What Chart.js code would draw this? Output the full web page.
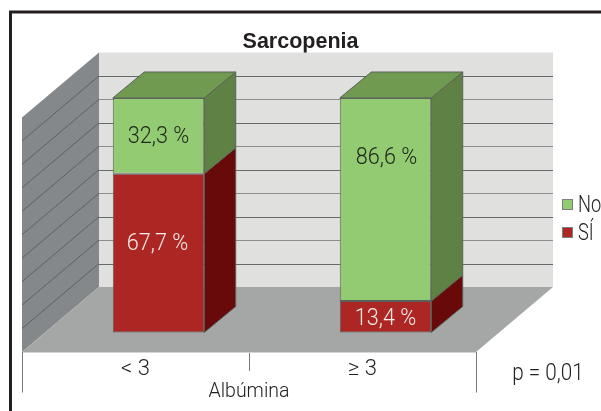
<!DOCTYPE html>
<html><head><meta charset="utf-8">
<style>html,body{margin:0;padding:0;background:#fff;overflow:hidden}canvas{display:block}</style>
<script src="https://cdn.jsdelivr.net/npm/chart.js@4"></script>
</head><body><canvas id="c" width="601" height="411"></canvas>
<script>
const categories = ['< 3', '≥ 3'];
const siValues = [67.7, 13.4];
const noValues = [32.3, 86.6];
const siLabels = ['67,7 %', '13,4 %'];
const noLabels = ['32,3 %', '86,6 %'];
const gridValues = [10, 20, 30, 40, 50, 60, 70, 80, 90];
const titleText = 'Sarcopenia';
const axisTitle = 'Albúmina';
const pText = 'p = 0,01';
const LIGHT = 'Roboto,"Liberation Sans",sans-serif';

const FLOOR = {dx: 77, dy: -65};
const FRONT = {dx: 23, dy: -19.5};
const BAR = {dx: 31.5, dy: -26};
const LABEL_SHIFT = {si: [[-1, -11.5], [0, 0]], no: [[0, -1], [1, -44]]};
const EDGE = '#5c615c';

function poly(ctx, pts, fill, stroke) {
  ctx.beginPath();
  pts.forEach((p, i) => i ? ctx.lineTo(p[0], p[1]) : ctx.moveTo(p[0], p[1]));
  ctx.closePath();
  ctx.fillStyle = fill; ctx.fill();
  if (stroke) { ctx.strokeStyle = stroke; ctx.lineWidth = 1; ctx.stroke(); }
}
function narrowText(ctx, text, px, py, sx) {
  ctx.save();
  ctx.translate(px, py);
  ctx.scale(sx || 0.9, 1);
  ctx.fillText(text, 0, 0);
  ctx.restore();
}
const scene = {
  id: 'scene',
  afterLayout(chart) {
    chart.titleBlock.left = 0;
    chart.titleBlock.right = chart.width;
  },
  beforeDatasetsDraw(chart) {
    const {ctx, scales: {x, y}} = chart;
    const L = x.left, R = x.right, B = y.getPixelForValue(0), T = y.getPixelForValue(100);
    ctx.save();
    // frame
    ctx.strokeStyle = '#231f20'; ctx.lineWidth = 3;
    ctx.beginPath(); ctx.moveTo(10.5, 411); ctx.lineTo(10.5, 12); ctx.lineTo(601, 12); ctx.stroke();
    // walls
    const bx = FLOOR.dx, by = FLOOR.dy;
    poly(ctx, [[L+bx, T+by], [R+bx, T+by], [R+bx, B+by], [L+bx, B+by]], '#e0e1df');
    poly(ctx, [[L, T], [L+bx, T+by], [L+bx, B+by], [L, B]], '#85888a');
    poly(ctx, [[L, B], [L+bx, B+by], [R+bx, B+by], [R, B]], '#a5a7a6');
    ctx.lineWidth = 1;
    gridValues.forEach((v, i) => {
      const p = y.getPixelForValue(v);
      const snapped = Math.round(p + by) + .5;
      ctx.strokeStyle = i % 2 ? '#8c8f8d' : '#666a69';
      ctx.beginPath(); ctx.moveTo(L+bx, snapped); ctx.lineTo(R+bx, snapped); ctx.stroke();
      ctx.strokeStyle = '#5f6264';
      ctx.beginPath(); ctx.moveTo(L, p); ctx.lineTo(L+bx, p+by); ctx.stroke();
    });
    // front edge of the floor and longer outer ticks
    ctx.strokeStyle = '#d4d5d4'; ctx.beginPath(); ctx.moveTo(L, B+.5); ctx.lineTo(R, B+.5); ctx.stroke();
    ctx.strokeStyle = '#777a79';
    [L, R].forEach(px => { ctx.beginPath(); ctx.moveTo(Math.round(px)+.5, B); ctx.lineTo(Math.round(px)+.5, B+40.5); ctx.stroke(); });
    // bars' depth faces
    ctx.translate(FRONT.dx, FRONT.dy);
    const faces = [['#680a0a', null], ['#5f8244', '#6f9a50']];
    chart.data.datasets.forEach((d, di) => {
      chart.getDatasetMeta(di).data.forEach(el => {
        const r = el.x + el.width/2, l = el.x - el.width/2;
        poly(ctx, [[r, el.y], [r+BAR.dx, el.y+BAR.dy], [r+BAR.dx, el.base+BAR.dy], [r, el.base]], faces[di][0], EDGE);
        if (faces[di][1]) poly(ctx, [[l, el.y], [l+BAR.dx, el.y+BAR.dy], [r+BAR.dx, el.y+BAR.dy], [r, el.y]], faces[di][1], EDGE);
      });
    });
    ctx.restore();
    ctx.save();
    ctx.translate(FRONT.dx, FRONT.dy);
  },
  afterDatasetsDraw(chart) {
    const {ctx} = chart;
    ctx.restore();
    ctx.save();
    ctx.textAlign = 'center'; ctx.textBaseline = 'middle';
    ctx.font = '300 24px ' + LIGHT;
    const sets = [[siLabels, '#f6ecea', LABEL_SHIFT.si], [noLabels, '#20281c', LABEL_SHIFT.no]];
    sets.forEach((s, di) => {
      chart.getDatasetMeta(di).data.forEach((el, i) => {
        const cx = el.x + FRONT.dx + s[2][i][0];
        const cy = (el.y + el.base)/2 + FRONT.dy + s[2][i][1] + 2;
        ctx.fillStyle = s[1];
        narrowText(ctx, s[0][i], cx, cy);
      });
    });
    // legend, top entry is the last dataset
    const lx = 562, rows = [[1, 199], [0, 227]];
    rows.forEach(([di, ty]) => {
      const d = chart.data.datasets[di];
      ctx.fillStyle = d.backgroundColor; ctx.strokeStyle = '#7c807c'; ctx.lineWidth = 1;
      ctx.fillRect(lx, ty, 11, 11); ctx.strokeRect(lx+.5, ty+.5, 10, 10);
      ctx.textAlign = 'left'; ctx.fillStyle = '#222';
      narrowText(ctx, d.label, lx+16, ty+7, 0.76);
    });
    ctx.textAlign = 'center';
    ctx.font = '300 23px ' + LIGHT;
    narrowText(ctx, pText, 548, 374);
    ctx.restore();
  }
};
new Chart(document.getElementById('c'), {
  type: 'bar',
  data: {
    labels: categories,
    datasets: [
      {label: 'SÍ', data: siValues, backgroundColor: '#ac2623', borderColor: EDGE, borderWidth: 1, borderSkipped: false, clip: false},
      {label: 'No', data: noValues, backgroundColor: '#92cb72', borderColor: EDGE, borderWidth: 1, borderSkipped: false, clip: false}
    ]
  },
  plugins: [scene],
  options: {
    responsive: false, animation: false,
    layout: {padding: {left: 22, right: 125, top: 0, bottom: 0}},
    datasets: {bar: {categoryPercentage: 1, barPercentage: 0.403}},
    plugins: {
      legend: {display: false}, tooltip: {enabled: false},
      title: {display: true, text: titleText, color: '#231f20',
        font: {family: '"Liberation Sans",Arial,sans-serif', size: 21.5, weight: 'bold', lineHeight: 1.2},
        padding: {top: 29, bottom: 62.7}}
    },
    scales: {
      y: {display: false, stacked: true, min: 0, max: 100},
      x: {
        stacked: true,
        afterFit(s) { s.height = 59; },
        border: {display: false},
        grid: {drawOnChartArea: false, tickLength: 19, color: '#777a79', offset: true},
        ticks: {color: '#222', padding: -15, maxRotation: 0, font: {family: LIGHT, size: 22, weight: '300'}},
        title: {display: true, text: axisTitle, color: '#222', font: {family: LIGHT, size: 19.5, weight: '300', lineHeight: 1.2}, padding: {top: 0, bottom: 7}}
      }
    }
  }
});
</script></body></html>
